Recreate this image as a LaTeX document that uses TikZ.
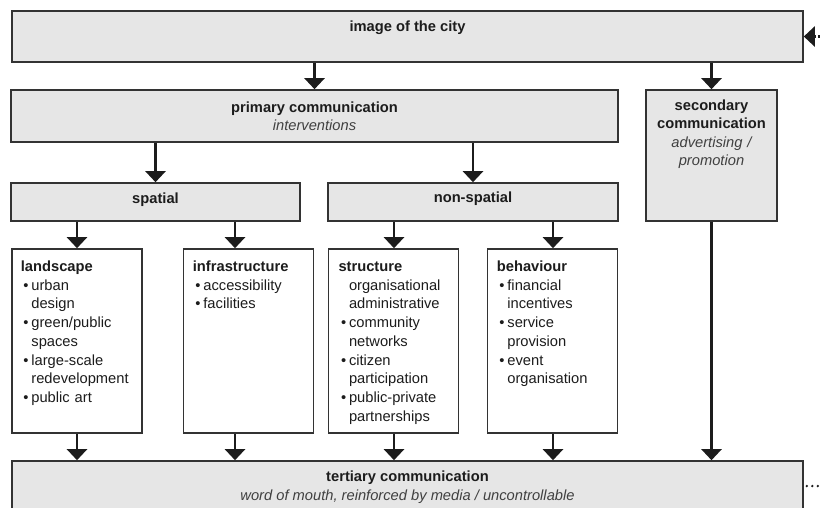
\documentclass[tikz,border=0pt]{standalone}
\usepackage{fontspec}
\setmainfont{Liberation Sans}
\usetikzlibrary{arrows.meta}

\definecolor{boxfill}{HTML}{E6E6E6}
\definecolor{frame}{HTML}{333333}
\definecolor{ink}{HTML}{1C1C1C}
\definecolor{soft}{HTML}{404040}

% bullet with a hanging indent, and the matching indent for wrapped lines
\newcommand\bulitem{\makebox[10.5pt][l]{\hspace{2.5pt}\textbullet}}
\newcommand\contline{\hspace*{10.5pt}}

\tikzset{
  box/.style={draw=frame, fill=boxfill, line width=1.6pt, inner sep=0pt},
  panel/.style={draw=frame, fill=white, line width=1.6pt, inner sep=0pt,
                minimum width=130pt, minimum height=184pt},
  arr/.style={draw=ink, line width=2.4pt, -{Triangle[width=20pt,length=11pt]}},
  head/.style={font=\bfseries, text=ink, anchor=base, inner sep=0pt},
  note/.style={font=\itshape, text=soft, anchor=base, inner sep=0pt},
  list/.style={anchor=base west, text width=122pt, align=left, inner sep=0pt, text=ink},
}

\begin{document}
\fontsize{14.7}{18.7}\selectfont
\begin{tikzpicture}[x=1pt,y=-1pt]
\clip (0,0) rectangle (820,507);
\useasboundingbox (0,0) rectangle (820,507);

% column positions of the vertical connectors
\coordinate (c1) at (77,0);
\coordinate (c2) at (235,0);
\coordinate (c3) at (394,0);
\coordinate (c4) at (553,0);
\coordinate (cs) at (711.5,0);

% grey boxes
\node[box, minimum width=791pt, minimum height=51pt] (img)   at (407.5,36.5) {};
\node[box, minimum width=607pt, minimum height=52pt] (prim)  at (314.5,116) {};
\node[box, minimum width=131pt, minimum height=131pt] (sec)  at (711.5,155.5) {};
\node[box, minimum width=289pt, minimum height=38pt] (spat)  at (155.5,202) {};
\node[box, minimum width=290pt, minimum height=38pt] (nonsp) at (473,202) {};
\node[box, minimum width=791pt, minimum height=50pt] (tert)  at (407.5,486) {};

% white panels
\node[panel] (land)   at (77,341) {};
\node[panel] (infra)  at (248.3,341) {};
\node[panel] (struct) at (393.5,341) {};
\node[panel] (behav)  at (552.5,341) {};

% box texts
\node[head] (imgT)   at (407.5,31) {image of the city};
\node[head] (primT)  at (314.5,112) {primary communication};
\node[note] (primN)  at (314.5,130) {interventions};
\node[anchor=base, text width=128pt, align=center, inner sep=0pt,
      font=\fontsize{14.7}{18.4}\selectfont] (secT) at (711.5,110.5)
  {{\color{ink}\bfseries secondary\\ communication}\\
   {\color{soft}\itshape advertising /\\ promotion}};
\node[head] (spatT)  at (155.5,203) {spatial};
\node[head] (nonspT) at (473,202.5) {non-spatial};
\node[head] (tertT)  at (407.5,481.5) {tertiary communication};
\node[note] (tertN)  at (407.5,500.5) {word of mouth, reinforced by media / uncontrollable};

% panel texts
\node[list] (landT) at (20.7,271.5)
  {\textbf{landscape}\\
   \bulitem urban\\ \contline design\\
   \bulitem green/public\\ \contline spaces\\
   \bulitem large-scale\\ \contline redevelopment\\
   \bulitem public art};
\node[list] (infraT) at (192.7,271.5)
  {\textbf{infrastructure}\\
   \bulitem accessibility\\
   \bulitem facilities};
\node[list] (structT) at (338.3,271.5)
  {\textbf{structure}\\
   \contline organisational\\ \contline administrative\\
   \bulitem community\\ \contline networks\\
   \bulitem citizen\\ \contline participation\\
   \bulitem public-private\\ \contline partnerships};
\node[list] (behavT) at (496.7,271.5)
  {\textbf{behaviour}\\
   \bulitem financial\\ \contline incentives\\
   \bulitem service\\ \contline provision\\
   \bulitem event\\ \contline organisation};

% connectors
\draw[arr] (img.south -| primT) -- (prim.north -| primT);
\draw[arr] (img.south -| cs) -- (sec.north);
\draw[arr] (prim.south -| spatT) -- (spat.north);
\draw[arr] (prim.south -| nonspT) -- (nonsp.north);
\draw[arr] (spat.south -| c1) -- (land.north -| c1);
\draw[arr] (spat.south -| c2) -- (infra.north -| c2);
\draw[arr] (nonsp.south -| c3) -- (struct.north -| c3);
\draw[arr] (nonsp.south -| c4) -- (behav.north -| c4);
\draw[arr] (land.south -| c1) -- (tert.north -| c1);
\draw[arr] (infra.south -| c2) -- (tert.north -| c2);
\draw[arr] (struct.south -| c3) -- (tert.north -| c3);
\draw[arr] (behav.south -| c4) -- (tert.north -| c4);
\draw[arr] (sec.south) -- (tert.north -| cs);

% loose ends at the right margin
\coordinate (feedIn) at (824,36.5);
\coordinate (spill) at (822,486);
\draw[arr, dash pattern=on 2pt off 2pt] (feedIn) -- (img.east);
\draw[draw=ink, line width=2.6pt, line cap=round, dash pattern=on 0pt off 5.5pt,
      shorten <=3pt] (tert.east) -- (spill);
\end{tikzpicture}
\end{document}
